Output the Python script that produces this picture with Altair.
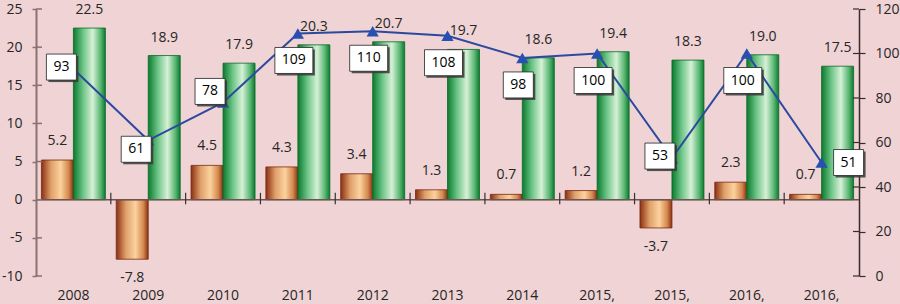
import json
import altair as alt
import pandas as pd

# ---- data ----
YEARS = ["2008", "2009", "2010", "2011", "2012", "2013", "2014",
         "2015,", "2015,", "2016,", "2016,"]
BROWN = [5.2, -7.8, 4.5, 4.3, 3.4, 1.3, 0.7, 1.2, -3.7, 2.3, 0.7]
GREEN = [22.5, 18.9, 17.9, 20.3, 20.7, 19.7, 18.6, 19.4, 18.3, 19.0, 17.5]
LINE = [93, 61, 78, 109, 110, 108, 98, 100, 53, 100, 51]
LEFT_TICKS = [-10, -5, 0, 5, 10, 15, 20, 25]
RIGHT_TICKS = [0, 20, 40, 60, 80, 100, 120]

# Excel-style data-label placement for the line series (style, not data)
LABEL_POS = ["L", "LB", "LA", "B", "B", "B", "B", "B", "L", "B", "R"]
POS_OFFSETS = {"L": (-12, -2), "LB": (-12, 9), "LA": (-13, -11),
               "B": (-4, 27), "R": (27, 0)}

FONT = "Open Sans"
TXT = "#262626"

df = pd.DataFrame({
    "idx": list(range(len(YEARS))),
    "year": YEARS,
    "brown": BROWN,
    "green": GREEN,
    "rate": LINE,
    "pos": LABEL_POS,
})
df["box"] = ["w" if len(str(v)) > 2 else "n" for v in LINE]

label_expr = json.dumps(YEARS) + "[datum.value]"
xscale = alt.Scale(paddingInner=0, paddingOuter=0)
x_axis = alt.Axis(title=None, labelExpr=label_expr, domain=False,
                  ticks=False, labelAngle=0, labelPadding=12,
                  labelFont=FONT, labelFontSize=14, labelColor=TXT)
X = alt.X("idx:O", scale=xscale, axis=x_axis)

yl = alt.Scale(domain=[-10, 25], nice=False, zero=False)
yr = alt.Scale(domain=[0, 120], nice=False, zero=False)

left_axis = alt.Axis(values=LEFT_TICKS, grid=False, title=None,
                     labelExpr="datum.value + ''",
                     domainColor="#8a7270", domainWidth=2,
                     tickColor="#8a7270", tickWidth=1.5, tickSize=4,
                     labelPadding=10, labelFont=FONT, labelFontSize=14,
                     labelColor=TXT)
right_axis = alt.Axis(values=RIGHT_TICKS, grid=False, title=None,
                      orient="right", labelExpr="datum.value + ''",
                      domainColor="#3b2a2a", domainWidth=1.5,
                      tickColor="#3b2a2a", tickWidth=1.2, tickSize=6,
                      labelPadding=10, labelFont=FONT, labelFontSize=14,
                      labelColor=TXT)


def YL(field):
    return alt.Y(field, scale=yl, axis=left_axis)


def YR(field):
    return alt.Y(field, scale=yr, axis=right_axis)


brown_grad = alt.LinearGradient(
    gradient="linear", x1=0, x2=1, y1=0, y2=0,
    stops=[alt.GradientStop(offset=0, color="#8a3012"),
           alt.GradientStop(offset=0.3, color="#e0a06a"),
           alt.GradientStop(offset=0.6, color="#fbd29e"),
           alt.GradientStop(offset=0.85, color="#d4884e"),
           alt.GradientStop(offset=1, color="#8a3012")])
green_grad = alt.LinearGradient(
    gradient="linear", x1=0, x2=1, y1=0, y2=0,
    stops=[alt.GradientStop(offset=0, color="#0b7a2e"),
           alt.GradientStop(offset=0.3, color="#6cc486"),
           alt.GradientStop(offset=0.6, color="#d6f1d6"),
           alt.GradientStop(offset=0.85, color="#58b672"),
           alt.GradientStop(offset=1, color="#0b7a2e")])

base = alt.Chart(df).transform_calculate(
    zero="0", t0="-0.6", t1="0.9",
    brown_txt="replace(format(datum.brown, '.1f'), '\u2212', '-')",
    green_txt="format(datum.green, '.1f')",
)

brown_bar = base.mark_bar(width=32, xOffset=-16, color=brown_grad,
                          stroke="#7a2a10", strokeWidth=0.8).encode(
    x=X, y=YL("brown:Q"))
green_bar = base.mark_bar(width=32, xOffset=16, color=green_grad,
                          stroke="#0a6a28", strokeWidth=0.8).encode(
    x=X, y=YL("green:Q"))

zero_line = base.transform_filter("datum.idx == 0").mark_rule(
    color="#6e5450", strokeWidth=1.5).encode(y=YL("zero:Q"))

boundary_ticks = base.transform_filter("datum.idx > 0").mark_rule(
    color="#333333", strokeWidth=1.2).encode(
    x=alt.X("idx:O", scale=xscale, axis=x_axis, bandPosition=0),
    y=YL("t0:Q"), y2="t1:Q")

left_in = alt.Chart(pd.DataFrame({"t": LEFT_TICKS})).mark_rule(
    color="#8a7270", strokeWidth=1.5).encode(
    y=YL("t:Q"), x=alt.value(0), x2=alt.value(6))

txt_kw = dict(font=FONT, fontSize=14, color=TXT, baseline="middle")
brown_pos = base.transform_filter("datum.brown >= 0").mark_text(
    dx=-16, dy=-19, **txt_kw).encode(x=X, y=YL("brown:Q"), text="brown_txt:N")
brown_neg = base.transform_filter("datum.brown < 0").mark_text(
    dx=-16, dy=19, **txt_kw).encode(x=X, y=YL("brown:Q"), text="brown_txt:N")
green_lbl = base.mark_text(dx=16, dy=-18, **txt_kw).encode(
    x=X, y=YL("green:Q"), text="green_txt:N")

left = alt.layer(brown_bar, green_bar, zero_line, boundary_ticks, left_in,
                 brown_pos, brown_neg, green_lbl)

# ---- right axis: line with boxed labels ----
line = base.mark_line(color="#2b4a9e", strokeWidth=2).encode(
    x=X, y=YR("rate:Q"))
tri = base.mark_point(shape="triangle-up", size=150, filled=True,
                      color="#2850b0", opacity=1).encode(x=X, y=YR("rate:Q"))

right_in = alt.Chart(pd.DataFrame({"t": RIGHT_TICKS})).mark_rule(
    color="#3b2a2a", strokeWidth=1.2).encode(
    y=YR("t:Q"), x=alt.value(817), x2=alt.value(823))

PATH_N = "M-1,-0.867L1,-0.867L1,0.867L-1,0.867Z"
PATH_W = "M-1,-0.684L1,-0.684L1,0.684L-1,0.684Z"
shape_enc = alt.Shape("box:N", scale=alt.Scale(domain=["n", "w"],
                      range=[PATH_N, PATH_W]), legend=None)
size_enc = alt.Size("box:N", scale=alt.Scale(domain=["n", "w"],
                    range=[900, 1444]), legend=None)

box_layers = []
for key, (ox, oy) in POS_OFFSETS.items():
    sub = base.transform_filter(alt.datum.pos == key)
    box_layers.append(sub.mark_point(filled=True, fill="#3a3a3a",
                                     strokeWidth=0, opacity=0.85,
                                     xOffset=ox + 2, yOffset=oy + 2).encode(
        x=X, y=YR("rate:Q"), shape=shape_enc, size=size_enc))
    box_layers.append(sub.mark_point(filled=True, fill="white",
                                     stroke="#222222", strokeWidth=0.8,
                                     opacity=1, xOffset=ox, yOffset=oy).encode(
        x=X, y=YR("rate:Q"), shape=shape_enc, size=size_enc))
    box_layers.append(sub.mark_text(dx=ox, dy=oy, font=FONT, fontSize=14,
                                    color="black", baseline="middle").encode(
        x=X, y=YR("rate:Q"), text="rate:Q"))

right = alt.layer(line, tri, right_in, *box_layers)

chart = alt.layer(left, right).resolve_scale(y="independent").properties(
    width=823, height=267,
    autosize=alt.AutoSizeParams(type="none"),
    padding={"left": 36, "top": 9, "right": 41, "bottom": 28},
    background="#efd3d5",
).configure_view(stroke=None)

chart.save("out.html", embed_options={"renderer": "svg", "actions": False})
